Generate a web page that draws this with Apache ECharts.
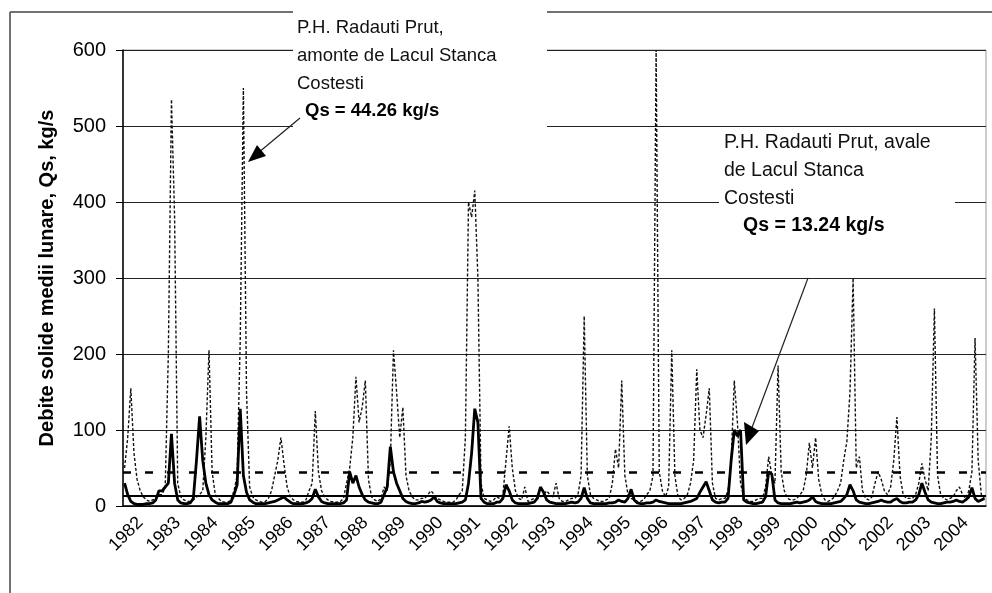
<!DOCTYPE html>
<html>
<head>
<meta charset="utf-8">
<script src="https://cdn.jsdelivr.net/npm/echarts@6/dist/echarts.min.js"></script>
<style>
  html, body { margin: 0; padding: 0; background: #fff; }
  #chart { width: 992px; height: 593px; }
</style>
</head>
<body>
<div id="chart"></div>
<script>
// ani 1982 - 2004, cate 12 luni
var years = [1982, 1983, 1984, 1985, 1986, 1987, 1988, 1989, 1990, 1991, 1992, 1993,
             1994, 1995, 1996, 1997, 1998, 1999, 2000, 2001, 2002, 2003, 2004];

// P.H. Radauti Prut, amonte de Lacul Stanca Costesti (kg/s)
var amonte = [
  50, 90, 155, 70, 35, 20, 12, 8, 6, 8, 10, 15,        // 1982
  15, 25, 200, 535, 380, 30, 12, 8, 6, 6, 8, 12,       // 1983
  15, 20, 90, 205, 45, 15, 10, 6, 5, 5, 8, 20,         // 1984
  40, 220, 550, 150, 25, 12, 8, 6, 5, 6, 10, 20,       // 1985
  40, 60, 90, 55, 25, 12, 8, 6, 5, 5, 8, 20,           // 1986
  30, 125, 45, 20, 12, 8, 6, 5, 5, 6, 10, 30,          // 1987
  50, 90, 170, 110, 130, 165, 35, 12, 8, 6, 10, 25,    // 1988
  20, 60, 205, 150, 90, 130, 40, 20, 12, 8, 8, 10,     // 1989
  10, 15, 20, 15, 10, 8, 6, 5, 5, 5, 8, 15,            // 1990
  20, 90, 400, 380, 415, 300, 30, 10, 8, 6, 8, 12,     // 1991
  10, 15, 60, 105, 50, 20, 10, 8, 25, 6, 8, 10,        // 1992
  10, 12, 15, 20, 15, 12, 30, 10, 6, 6, 8, 10,         // 1993
  10, 15, 40, 250, 40, 15, 10, 8, 6, 6, 8, 10,         // 1994
  30, 75, 50, 165, 40, 15, 10, 8, 6, 6, 8, 15,         // 1995
  20, 40, 600, 45, 20, 12, 25, 205, 40, 12, 8, 10,     // 1996
  15, 30, 60, 180, 100, 90, 120, 155, 30, 10, 8, 10,   // 1997
  10, 20, 60, 165, 110, 30, 12, 8, 6, 6, 8, 10,        // 1998
  10, 25, 65, 40, 30, 185, 45, 20, 10, 8, 8, 10,       // 1999
  15, 20, 40, 83, 50, 90, 35, 15, 8, 6, 8, 12,         // 2000
  20, 30, 60, 85, 150, 300, 50, 65, 20, 10, 8, 12,     // 2001
  30, 45, 35, 20, 15, 25, 60, 117, 40, 15, 10, 10,     // 2002
  10, 15, 30, 56, 35, 20, 90, 260, 40, 15, 10, 8,      // 2003
  10, 12, 20, 25, 15, 10, 20, 45, 221, 60, 15, 10      // 2004
];

// P.H. Radauti Prut, avale de Lacul Stanca Costesti (kg/s)
var avale = [
  30, 15, 6, 3, 2, 2, 2, 3, 3, 4, 8, 20,               // 1982
  20, 25, 30, 95, 30, 8, 4, 3, 3, 4, 10, 60,           // 1983
  118, 60, 30, 15, 8, 5, 3, 3, 3, 3, 5, 15,            // 1984
  28, 128, 40, 18, 8, 5, 3, 3, 3, 3, 4, 5,             // 1985
  6, 8, 10, 12, 8, 5, 3, 3, 3, 3, 4, 6,                // 1986
  10, 22, 12, 6, 4, 3, 3, 3, 3, 3, 4, 8,               // 1987
  45, 30, 40, 25, 15, 8, 5, 4, 3, 3, 5, 15,            // 1988
  25, 78, 45, 30, 20, 10, 6, 4, 3, 3, 4, 6,            // 1989
  5, 6, 8, 12, 6, 4, 3, 3, 3, 3, 3, 4,                 // 1990
  5, 8, 30, 70, 128, 110, 10, 5, 3, 3, 3, 5,           // 1991
  5, 10, 28, 20, 8, 4, 3, 3, 3, 3, 4, 5,               // 1992
  10, 25, 18, 8, 5, 4, 3, 3, 3, 3, 4, 5,               // 1993
  4, 5, 10, 24, 10, 4, 3, 3, 3, 3, 3, 4,               // 1994
  4, 5, 8, 6, 5, 10, 22, 8, 4, 3, 3, 4,                // 1995
  4, 5, 8, 6, 5, 4, 3, 3, 3, 3, 3, 4,                  // 1996
  5, 6, 8, 10, 18, 25, 32, 20, 8, 5, 4, 5,             // 1997
  5, 10, 60, 100, 92, 100, 8, 5, 4, 3, 3, 4,           // 1998
  5, 12, 45, 42, 8, 4, 3, 3, 3, 3, 4, 5,               // 1999
  4, 5, 6, 8, 12, 6, 4, 3, 3, 3, 3, 4,                 // 2000
  5, 6, 10, 15, 28, 20, 8, 5, 4, 3, 3, 4,              // 2001
  5, 6, 8, 6, 5, 5, 8, 10, 6, 4, 4, 5,                 // 2002
  5, 8, 15, 30, 18, 8, 5, 4, 3, 3, 4, 5,               // 2003
  5, 6, 8, 6, 5, 8, 12, 24, 10, 6, 8, 10               // 2004
];

// debite medii multianuale
var meanAmonte = 44.26;
var meanAvale = 13.24;

var yTicks = [0, 100, 200, 300, 400, 500, 600];

var months = [];
years.forEach(function (y) {
  for (var m = 1; m <= 12; m++) months.push(y + '-' + (m < 10 ? '0' + m : m));
});

var font = 'Liberation Sans, Arial, sans-serif';
var chart = echarts.init(document.getElementById('chart'));

function label(x, y, text, size, bold) {
  return {
    type: 'text', x: x, y: y, z: 101,
    style: { text: text, font: (bold ? 'bold ' : '') + size + 'px ' + font, fill: bold ? '#000' : '#111', verticalAlign: 'top' }
  };
}

chart.setOption({
  animation: false,
  backgroundColor: '#fff',
  grid: {
    left: 123, right: 6, top: 50, bottom: 87,
    show: true, borderColor: '#999', borderWidth: 1
  },
  xAxis: {
    type: 'category',
    data: months,
    boundaryGap: true,
    axisLine: { lineStyle: { color: '#000', width: 1.5 } },
    axisTick: { interval: 0, length: 6, lineStyle: { color: '#000' } },
    axisLabel: {
      interval: function (i) { return i % 12 === 5; },
      formatter: function (v) { return v.slice(0, 4); },
      rotate: 45,
      margin: 14,
      color: '#000',
      fontFamily: font,
      fontSize: 18
    },
    splitLine: { show: false }
  },
  yAxis: {
    type: 'value',
    min: yTicks[0],
    max: yTicks[yTicks.length - 1],
    interval: 100,
    name: 'Debite solide medii lunare, Qs, kg/s',
    nameLocation: 'middle',
    nameGap: 66,
    nameTextStyle: { fontFamily: font, fontSize: 20, fontWeight: 'bold', color: '#000' },
    axisLine: { show: true, lineStyle: { color: '#000', width: 1.5 } },
    axisTick: { show: true, length: 7, lineStyle: { color: '#000' } },
    axisLabel: { color: '#000', fontFamily: font, fontSize: 20, margin: 17 },
    splitLine: { lineStyle: { color: '#222', width: 1.2 } }
  },
  series: [
    {
      name: 'amonte',
      type: 'line',
      data: amonte,
      showSymbol: false,
      symbol: 'none',
      lineStyle: { color: '#111', width: 1.4, type: [3, 2] },
      z: 3,
      markLine: {
        silent: true,
        symbol: 'none',
        label: { show: false },
        lineStyle: { color: '#000', width: 2.5, type: [8, 14] },
        data: [{ yAxis: meanAmonte }]
      }
    },
    {
      name: 'avale',
      type: 'line',
      data: avale,
      showSymbol: false,
      symbol: 'none',
      lineStyle: { color: '#000', width: 2.8 },
      z: 4,
      markLine: {
        silent: true,
        symbol: 'none',
        label: { show: false },
        lineStyle: { color: '#000', width: 2, type: 'solid' },
        data: [{ yAxis: meanAvale }]
      }
    }
  ],
  graphic: [
    // cadru exterior
    { type: 'line', shape: { x1: 10, y1: 12, x2: 10, y2: 593 }, style: { stroke: '#444', lineWidth: 1.5 }, z: 50 },
    { type: 'line', shape: { x1: 10, y1: 12, x2: 992, y2: 12 }, style: { stroke: '#444', lineWidth: 1.5 }, z: 50 },
    // caseta amonte
    { type: 'rect', shape: { x: 293, y: 6, width: 254, height: 124 }, style: { fill: '#fff' }, z: 100 },
    label(297, 18, 'P.H. Radauti Prut,', 18.5),
    label(297, 46, 'amonte de Lacul Stanca', 18.5),
    label(297, 74, 'Costesti', 18.5),
    label(305, 101, 'Qs = 44.26 kg/s', 18.5, true),
    // caseta avale
    { type: 'rect', shape: { x: 719, y: 132, width: 236, height: 106 }, style: { fill: '#fff' }, z: 100 },
    label(724, 133, 'P.H. Radauti Prut, avale', 19.5),
    label(724, 161, 'de Lacul Stanca', 19.5),
    label(724, 189, 'Costesti', 19.5),
    label(743, 216, 'Qs = 13.24 kg/s', 19.5, true),
    // sageti
    { type: 'line', shape: { x1: 300, y1: 118, x2: 258, y2: 153 }, style: { stroke: '#222', lineWidth: 1.2 }, z: 101 },
    { type: 'polygon', shape: { points: [[248, 162], [266, 156], [257, 145]] }, style: { fill: '#000' }, z: 101 },
    { type: 'line', shape: { x1: 808, y1: 278, x2: 750, y2: 433 }, style: { stroke: '#222', lineWidth: 1.2 }, z: 101 },
    { type: 'polygon', shape: { points: [[744, 422], [759, 431], [746, 445]] }, style: { fill: '#000' }, z: 101 }
  ]
});
</script>
</body>
</html>
